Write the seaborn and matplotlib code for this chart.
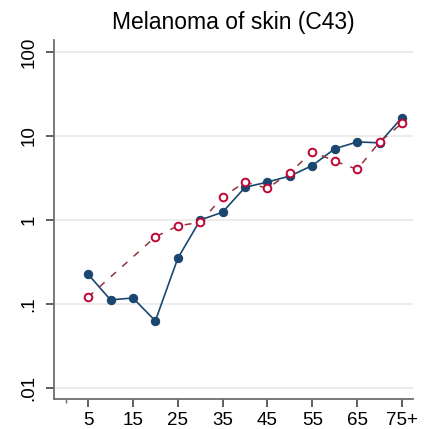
import numpy as np
import pandas as pd
import matplotlib
matplotlib.use("Agg")
import matplotlib.pyplot as plt
import seaborn as sns

# age groups (lower bound of the 5-year band, 75 = 75+)
ages = [5, 10, 15, 20, 25, 30, 35, 40, 45, 50, 55, 60, 65, 70, 75]
tick_ages = [5, 15, 25, 35, 45, 55, 65, 75]
tick_labels = ["5", "15", "25", "35", "45", "55", "65", "75+"]
y_ticks = [0.01, 0.1, 1, 10, 100]
y_labels = [".01", ".1", "1", "10", "100"]

# rates per 100,000
solid_rate = [0.226, 0.112, 0.118, 0.063, 0.35, 1.0, 1.24, 2.45, 2.83, 3.34,
              4.45, 7.05, 8.5, 8.3, 16.6]
dashed_rate = [0.121, np.nan, np.nan, 0.63, 0.85, 0.94, 1.88, 2.83, 2.38, 3.66,
               6.5, 5.04, 4.0, 8.5, 14.2]

df = pd.DataFrame({"age": ages, "solid": solid_rate, "dashed": dashed_rate})
df_dashed = df.dropna(subset=["dashed"])

sns.set_style("white")
plt.rcParams["font.family"] = ["Liberation Sans", "DejaVu Sans"]
plt.rcParams["text.color"] = "black"

fig = plt.figure(figsize=(4.3, 4.29), dpi=100)
ax = fig.add_axes([0.1256, 0.0699, 0.8349, 0.8369])

navy = "#1a476f"
maroon = "#90353b"
cranberry = "#c10534"

sns.lineplot(data=df, x="age", y="solid", ax=ax, color=navy, linewidth=1.2,
             marker="o", markersize=6, markeredgecolor=navy,
             markerfacecolor=navy, zorder=3)
sns.lineplot(data=df_dashed, x="age", y="dashed", ax=ax, color=maroon,
             linewidth=1.1, linestyle=(0, (4.5, 5.5)), marker="o",
             markersize=5.5, markerfacecolor="white",
             markeredgecolor=cranberry, markeredgewidth=1.4, zorder=4)

ax.set_yscale("log")
ax.set_ylim(0.0074, 139)
ax.set_xlim(-2.6, 77.45)

ax.set_yticks(y_ticks)
ax.set_yticklabels(y_labels, rotation=90, va="center", fontsize=13.5)
ax.yaxis.set_minor_locator(matplotlib.ticker.NullLocator())
ax.set_xticks(tick_ages)
ax.set_xticklabels(tick_labels, fontsize=13.5)
ax.set_xticks([0], minor=True)

ax.grid(axis="y", color="#ebebeb", linewidth=1.3)
ax.grid(axis="x", visible=False)
ax.set_axisbelow(True)

for side in ["top", "right"]:
    ax.spines[side].set_visible(False)
for side in ["left", "bottom"]:
    ax.spines[side].set_color("#6e6e6e")
    ax.spines[side].set_linewidth(1.3)

ax.tick_params(axis="x", which="major", direction="out", length=6,
               width=1.1, color="#333333", pad=3.5, bottom=True,
               labelcolor="black")
ax.tick_params(axis="y", which="major", direction="out", length=6,
               width=1.1, color="#333333", pad=6, left=True,
               labelcolor="black")
ax.tick_params(axis="x", which="minor", direction="out", length=3,
               width=1.0, color="#6e6e6e", bottom=True)

ax.set_xlabel("")
ax.set_ylabel("")
ax.set_title("Melanoma of skin (C43)", fontsize=16.5, pad=7.7, color="black")

fig.savefig("out.png", dpi=100)
